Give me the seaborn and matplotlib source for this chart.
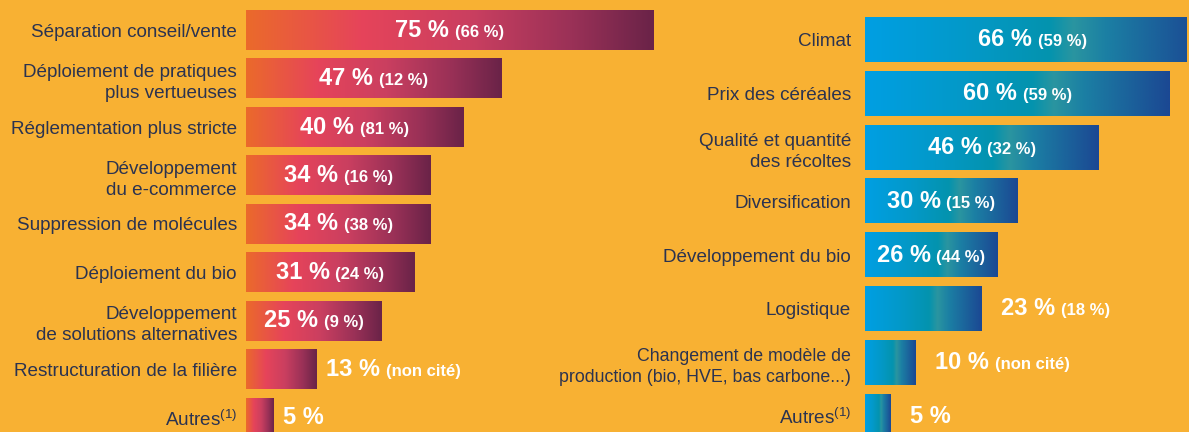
import numpy as np
import pandas as pd
import matplotlib
matplotlib.use('Agg')
import matplotlib.pyplot as plt
import seaborn as sns
from matplotlib.colors import LinearSegmentedColormap
from matplotlib.offsetbox import TextArea, HPacker, AnnotationBbox

# Data
left_labels = [
    'Séparation conseil/vente',
    'Déploiement de pratiques\nplus vertueuses',
    'Réglementation plus stricte',
    'Développement\ndu e-commerce',
    'Suppression de molécules',
    'Déploiement du bio',
    'Développement\nde solutions alternatives',
    'Restructuration de la filière',
    'Autres$^{(1)}$',
]
left_values = [75, 47, 40, 34, 34, 31, 25, 13, 5]
left_previous = ['66 %', '12 %', '81 %', '16 %', '38 %', '24 %', '9 %', 'non cité', None]

right_labels = [
    'Climat',
    'Prix des céréales',
    'Qualité et quantité\ndes récoltes',
    'Diversification',
    'Développement du bio',
    'Logistique',
    'Changement de modèle de\nproduction (bio, HVE, bas carbone...)',
    'Autres$^{(1)}$',
]
right_values = [66, 60, 46, 30, 26, 23, 10, 5]
right_previous = ['59 %', '59 %', '32 %', '15 %', '44 %', '18 %', 'non cité', None]

BG = '#F8B133'
LABEL_COLOR = '#2B3350'
NARROW = ['Liberation Sans Narrow', 'Liberation Sans', 'DejaVu Sans']

sns.set_style('white')
plt.rcParams['font.family'] = ['Liberation Sans', 'DejaVu Sans']
plt.rcParams['mathtext.fontset'] = 'custom'
plt.rcParams['mathtext.rm'] = 'Liberation Sans'
plt.rcParams['mathtext.it'] = 'Liberation Sans:italic'

red_cmap = LinearSegmentedColormap.from_list('red', [
    (0.0, '#EB6A2B'), (0.28, '#E6445A'), (0.55, '#CA3F60'),
    (0.8, '#9A3157'), (1.0, '#6A2348')])
blue_cmap = LinearSegmentedColormap.from_list('blue', [
    (0.0, '#009FE3'), (0.3, '#0399C9'), (0.55, '#0493AE'),
    (0.62, '#2A95A0'), (0.72, '#1B7FA4'), (1.0, '#1B4893')])

W, H = 1189, 432
fig = plt.figure(figsize=(W / 100, H / 100), dpi=100, facecolor=BG)


def draw_panel(ax, labels, values, previous, cmap, ylim, pad, offset, inside_min):
    df = pd.DataFrame({'label': labels, 'value': values})
    sns.barplot(data=df, x='value', y='label', ax=ax, orient='h',
                width=0.82, color='white')
    grad = np.linspace(0, 1, 256).reshape(1, -1)
    for patch in ax.patches:
        x0, y0 = patch.get_x(), patch.get_y()
        w, h = patch.get_width(), patch.get_height()
        ax.imshow(grad, cmap=cmap, aspect='auto', interpolation='bilinear',
                  extent=[x0, x0 + w, y0 + h, y0], zorder=2)
        patch.set_visible(False)

    for i, (v, prev) in enumerate(zip(values, previous)):
        children = [TextArea(f'{v} %', textprops=dict(
            color='white', fontsize=17, fontweight='bold', family=NARROW))]
        if prev:
            children.append(TextArea(f'({prev})', textprops=dict(
                color='white', fontsize=12, fontweight='bold', family=NARROW)))
        box = HPacker(children=children, align='baseline', pad=0, sep=4)
        if v >= inside_min:
            ab = AnnotationBbox(box, (v / 2, i), xycoords='data',
                                box_alignment=(0.5, 0.5), frameon=False, pad=0)
        else:
            ab = AnnotationBbox(box, (v, i), xycoords='data', xybox=(offset, 0),
                                boxcoords='offset points', box_alignment=(0, 0.5),
                                frameon=False, pad=0)
        ab.set_zorder(5)
        ax.add_artist(ab)

    ax.set_ylim(*ylim)
    ax.set_xlabel('')
    ax.set_ylabel('')
    ax.set_xticks([])
    ax.tick_params(axis='y', length=0, pad=pad, labelsize=13.6, labelcolor=LABEL_COLOR)
    for t in ax.get_yticklabels():
        t.set_horizontalalignment('right')
        t.set_linespacing(1.32)
        if t.get_text().startswith('Changement'):
            t.set_fontsize(12.8)
    sns.despine(ax=ax, left=True, bottom=True)
    ax.set_facecolor('none')


ax1 = fig.add_axes([246 / W, 0, 414 / W, 1])
draw_panel(ax1, left_labels, left_values, left_previous, red_cmap,
           ylim=(8.29, -0.62), pad=6.5, offset=7, inside_min=20)
ax1.set_xlim(0, 414 / 5.43)

ax2 = fig.add_axes([865 / W, 0, 321 / W, 1])
draw_panel(ax2, right_labels, right_values, right_previous, blue_cmap,
           ylim=(7.29, -0.743), pad=10, offset=14, inside_min=25)
ax2.set_xlim(0, 321 / 5.08)

fig.savefig('out.png', dpi=100, facecolor=BG)
